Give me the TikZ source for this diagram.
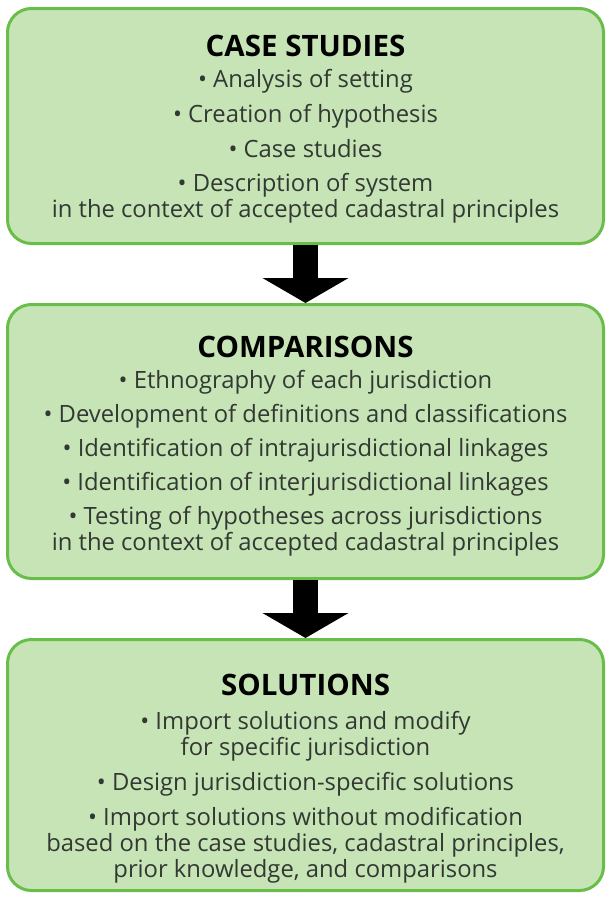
\documentclass[tikz,border=0pt]{standalone}
\usepackage{fontspec}
\setmainfont{Open Sans}
\usepackage{tikz}
\usetikzlibrary{arrows.meta,positioning}
\definecolor{StageFill}{RGB}{199,228,183}
\definecolor{StageLine}{RGB}{104,190,72}
\definecolor{StageText}{RGB}{50,56,50}
\newcommand{\stagetitle}[2][0pt]{{\fontsize{29.5}{26}\selectfont\bfseries\color{black}\rule{0pt}{#1}#2}}

\begin{document}
\begin{tikzpicture}[x=1pt,y=1pt,node distance=58pt,
every node/.style={font=\fontsize{23.8}{26}\selectfont,align=center,text=StageText},
stage/.style={draw=StageLine,line width=3pt,rounded corners=24pt,fill=StageFill,minimum width=596pt,inner sep=0pt},
flow/.style={line width=25pt,-{Triangle[length=25pt,width=85pt]}}]
\useasboundingbox (0,0) rectangle (607,-897);
\node[stage,minimum height=235pt] (cases) at (305.5,-126) {\stagetitle[28pt]{CASE STUDIES}\\[5pt]
• Analysis of setting\\[9pt]
• Creation of hypothesis\\[9pt]
• Case studies\\[8pt]
• Description of system\\
in the context of accepted cadastral principles};
\node[stage,minimum height=274pt,below=of cases] (compare) {\stagetitle[31pt]{COMPARISONS}\\[5pt]
• Ethnography of each jurisdiction\\[8pt]
• Development of definitions and classifications\\[8pt]
• Identification of intrajurisdictional linkages\\[8pt]
• Identification of interjurisdictional linkages\\[8pt]
• Testing of hypotheses across jurisdictions\\
in the context of accepted cadastral principles};
\node[stage,minimum height=251pt,below=of compare] (solve) {\stagetitle[48pt]{SOLUTIONS}\\[8pt]
• Import solutions and modify\\
for specific jurisdiction\\[9pt]
• Design jurisdiction-specific solutions\\[9pt]
• Import solutions without modification\\
based on the case studies, cadastral principles,\\
prior knowledge, and comparisons};
\draw[flow] (cases) -- (compare);
\draw[flow] (compare) -- (solve);
\end{tikzpicture}
\end{document}
